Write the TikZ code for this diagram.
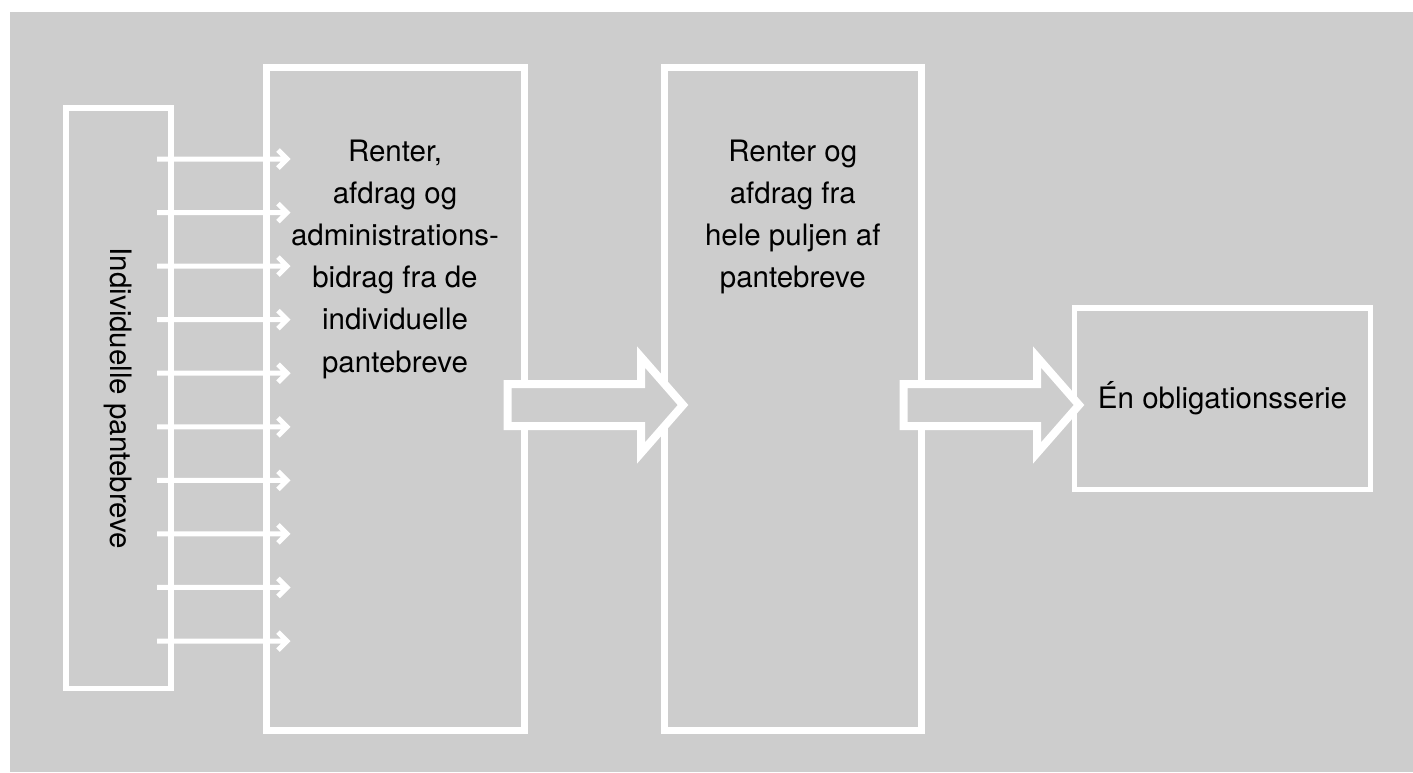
\documentclass[tikz,border=0pt]{standalone}
\usepackage{fontspec}
\setmainfont{TeX Gyre Heros}
\definecolor{bg}{RGB}{205,205,205}
\begin{document}
\begin{tikzpicture}[x=1pt,y=-1pt,
  box/.style={draw=white, line width=#1, inner sep=0pt, outer sep=0pt, rectangle},
  txt/.style={inner sep=0pt, text=black, font=\fontsize{29.5}{42.2}\selectfont},
  smallarr/.style={draw=white, line width=5pt, line join=miter, line cap=butt},
  bigarr/.style={draw=white, fill=bg, line width=8pt, line join=miter}]
\useasboundingbox (0,0) rectangle (1413,772);
\fill[white] (0,0) rectangle (1413,772);
\fill[bg] (10,12) rectangle (1413,772);
% boxes
\node[box=5.5pt, minimum width=105pt, minimum height=580.5pt] (b1) at (118.5,398.25) {};
\node[box=7pt, minimum width=258pt, minimum height=663pt] (b2) at (395,398.5) {};
\node[box=7pt, minimum width=257.5pt, minimum height=663pt] (b3) at (792.75,398.5) {};
\node[box=5.5pt, minimum width=296pt, minimum height=181.5pt] (b4) at (1222.5,398.75) {};
% small arrows
\foreach \i in {0,...,9} {
  \coordinate (s\i) at (157,159+53.56*\i);
  \coordinate (e\i) at (287,159+53.56*\i);
  \draw[smallarr] (s\i) -- (e\i) ++(-9,-9) -- (e\i) -- ++(-9,9);
}
% big arrows
\coordinate (a1) at (507.5,405);
\draw[bigarr] (a1) ++(0,-21) -- ++(133.5,0) -- ++(0,-27) -- ++(42,48) -- ++(-42,48) -- ++(0,-27) -- ++(-133.5,0) -- cycle;
\coordinate (a2) at (903.5,405);
\draw[bigarr] (a2) ++(0,-21) -- ++(133.5,0) -- ++(0,-27) -- ++(42,48) -- ++(-42,48) -- ++(0,-27) -- ++(-133.5,0) -- cycle;
% texts
\node[txt, rotate=-90, anchor=base] (t1) at (110,398.5) {Individuelle pantebreve};
\node[txt, anchor=base] (t2) at (395,161) {\begin{tabular}[t]{@{}c@{}}Renter,\\afdrag og\\administrations-\\bidrag fra de\\individuelle\\pantebreve\end{tabular}};
\node[txt, anchor=base] (t3) at (792.75,161) {\begin{tabular}[t]{@{}c@{}}Renter og\\afdrag fra\\hele puljen af\\pantebreve\end{tabular}};
\node[txt, anchor=base] (t4) at (1222.5,408.3) {Én obligationsserie};
\end{tikzpicture}
\end{document}
